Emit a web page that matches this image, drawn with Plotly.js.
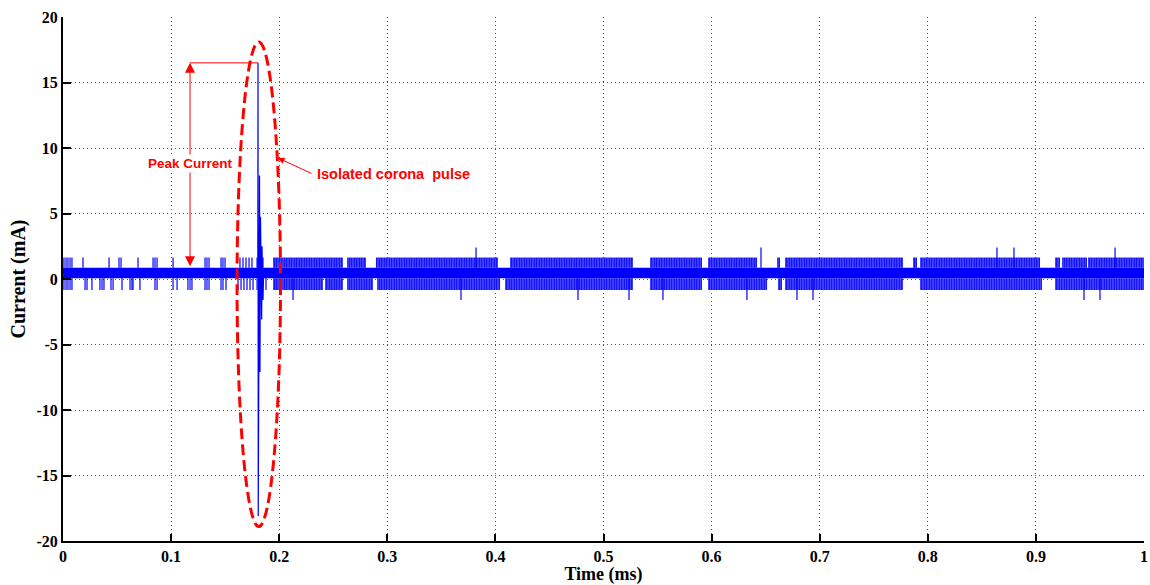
<!DOCTYPE html>
<html><head><meta charset="utf-8">
<script src="https://cdn.plot.ly/plotly-3.0.1.min.js"></script>
<style>html,body{margin:0;padding:0;background:#fff}#chart{width:1150px;height:585px}</style>
</head><body><div id="chart"></div><script>
// ---- data (time in ms, current in mA) ----
const bandEdgeTime = [0, 1];
const bandLow = [0.06, 0.06];
const bandHigh = [0.86, 0.86];
const spikeUpLevel = 1.65;
const spikeDownLevel = -0.84;
const bigUpLevel = 2.4;
const bigDownLevel = -1.6;

// isolated corona pulse samples
const pulseTime  = [0.1795, 0.1802, 0.1804, 0.1806, 0.1818, 0.1822, 0.1827, 0.1838, 0.1841, 0.1850, 0.1856];
const pulseValue = [0.45,   0.45,   16.5,   -18.1,  7.9,    -7.1,   4.75,   -3.1,   2.5,    -1.6,   0.45];

// sparse noise spikes before the pulse
const upSpikeTime = [0.0009,0.0028,0.0046,0.0065,0.0083,0.0185,0.0426,0.0518,0.0537,0.0694,0.0833,0.0851,0.0870,0.1018,
  0.1314,0.1332,0.1351,0.1462,0.1480,0.1499,0.1637,0.1665,0.1693,0.1721,0.1748,0.1795,0.1822,0.1850];
const downSpikeTime = [0.0009,0.0028,0.0046,0.0065,0.0083,0.0204,0.0222,0.0268,0.0342,0.0361,0.0379,0.0444,0.0463,0.0546,
  0.0620,0.0638,0.0648,0.0712,0.0851,0.0870,0.1018,0.1055,0.1156,0.1175,0.1193,0.1314,0.1332,0.1351,0.1462,0.1480,0.1508,
  0.1619,0.1647,0.1674,0.1702,0.1730,0.1758,0.1795,0.1822,0.1878];

// dense noise clusters after the pulse
const upClusterStart = [0.1943,0.2627,0.2895,0.4135,0.5430,0.5967,0.6605,0.6679,0.7863,0.7928,0.9177,0.9241,0.9482];
const upClusterEnd   = [0.2590,0.2803,0.4024,0.5273,0.5911,0.6420,0.6633,0.7771,0.7900,0.9038,0.9223,0.9473,1.0];
const downClusterStart = [0.1943,0.2424,0.2627,0.2905,0.4089,0.5430,0.5967,0.6614,0.6679,0.7928,0.9177];
const downClusterEnd   = [0.2405,0.2590,0.2868,0.4043,0.5273,0.5911,0.6513,0.6651,0.7771,0.9056,1.0];

// occasional larger spikes
const bigUpTime = [0.3821,0.6457,0.8640,0.8797,0.9732];
const bigDownTime = [0.2128,0.3682,0.4764,0.5236,0.5550,0.6327,0.6790,0.6938,0.9445,0.9593];

// ticks
const xTickVals = [0,0.1,0.2,0.3,0.4,0.5,0.6,0.7,0.8,0.9,1];
const xTickLabels = ['0','0.1','0.2','0.3','0.4','0.5','0.6','0.7','0.8','0.9','1'];
const yTickVals = [-20,-15,-10,-5,0,5,10,15,20];
const yTickLabels = ['-20','-15','-10','-5','0','5','10','15','20'];

// annotation anchors
const peakArrowTime = 0.1175;
const peakLabelY = 8.85;
const coronaArrowHead = [0.1989, 9.24];
const coronaArrowTail = [0.2313, 8.0];
const coronaLabel = [0.2331, 8.0];
const ellipseX = [0.1610, 0.2012];
const ellipseY = [-18.9, 18.1];

// ---- build traces ----
const BLUE = '#0000ff', RED = '#ff0000';
function segs(times, y0, y1){
  const x=[], y=[];
  times.forEach(t=>{x.push(t,t,null); y.push(y0,y1,null);});
  return {x,y};
}
function rects(starts, ends, y0, y1){
  const x=[], y=[];
  starts.forEach((s,i)=>{const e=ends[i]; x.push(s,s,e,e,s,null); y.push(y0,y1,y1,y0,y0,null);});
  return {x,y};
}
const bLo = bandLow[0], bHi = bandHigh[0];
const upC = rects(upClusterStart, upClusterEnd, bHi, spikeUpLevel);
const dnC = rects(downClusterStart, downClusterEnd, spikeDownLevel, bLo);
const pattern = {shape:'|', size:2.5, solidity:0.55, fgcolor:BLUE, bgcolor:'#6262ff', fgopacity:1};
const upS = segs(upSpikeTime, bHi, spikeUpLevel);
const dnS = segs(downSpikeTime, spikeDownLevel, bLo);
const bigU = segs(bigUpTime, bHi, bigUpLevel);
const bigD = segs(bigDownTime, bigDownLevel, bLo);

const traces = [
  {x:upC.x, y:upC.y, mode:'lines', fill:'toself', fillcolor:'#6262ff', fillpattern:pattern, line:{width:0,color:BLUE}, hoverinfo:'skip'},
  {x:dnC.x, y:dnC.y, mode:'lines', fill:'toself', fillcolor:'#6262ff', fillpattern:pattern, line:{width:0,color:BLUE}, hoverinfo:'skip'},
  {x:upS.x.concat(dnS.x, bigU.x, bigD.x), y:upS.y.concat(dnS.y, bigU.y, bigD.y), mode:'lines', line:{width:1.2,color:BLUE}, hoverinfo:'skip'},
  {x:[bandEdgeTime[0],bandEdgeTime[0],bandEdgeTime[1],bandEdgeTime[1]], y:[bandLow[0],bandHigh[0],bandHigh[1],bandLow[1]], mode:'lines', fill:'toself', fillcolor:BLUE, line:{width:0,color:BLUE}, hoverinfo:'skip'},
  {x:pulseTime, y:pulseValue, mode:'lines', line:{width:1.2,color:BLUE}, hoverinfo:'skip'}
];

const peakVal = Math.max(...pulseValue);
const peakTime = pulseTime[pulseValue.indexOf(peakVal)];

const serif = 'Liberation Serif, Times New Roman, serif';
const tickFont = {family:serif, size:16, color:'#000', weight:'bold'};
const gridStyle = {showgrid:true, gridcolor:'#555', griddash:'1px,3px', gridwidth:1, zeroline:false};
const layout = {
  width:1150, height:585,
  margin:{l:63, r:6, t:17, b:44},
  paper_bgcolor:'#fff', plot_bgcolor:'#fff',
  showlegend:false,
  xaxis:Object.assign({range:[0,1], tickvals:xTickVals, ticktext:xTickLabels, ticks:'inside', ticklen:7, tickwidth:2, tickcolor:'#000',
    showline:true, linecolor:'#000', linewidth:2, tickfont:tickFont, automargin:false,
    title:{text:'Time (ms)', font:{family:serif, size:18, color:'#000', weight:'bold'}, standoff:6}}, gridStyle),
  yaxis:Object.assign({range:[-20,20], tickvals:yTickVals, ticktext:yTickLabels, ticks:'inside', ticklen:8, tickwidth:2, tickcolor:'#000',
    showline:true, linecolor:'#000', linewidth:2, tickfont:tickFont, automargin:false,
    title:{text:'Current (mA)', font:{family:serif, size:20, color:'#000', weight:'bold'}, standoff:5}}, gridStyle),
  shapes:[
    {type:'line', xref:'x', yref:'y', x0:peakArrowTime, x1:peakTime, y0:peakVal, y1:peakVal, line:{color:RED, width:1}},
    {type:'circle', xref:'x', yref:'y', x0:ellipseX[0], x1:ellipseX[1], y0:ellipseY[0], y1:ellipseY[1], line:{color:RED, width:3, dash:'11px,5px'}, layer:'above'}
  ],
  annotations:[
    {x:peakArrowTime, y:peakVal, ax:peakArrowTime, ay:bandHigh[0], xref:'x', yref:'y', axref:'x', ayref:'y', text:'', showarrow:true,
      arrowside:'end+start', arrowhead:2, startarrowhead:2, arrowsize:2, startarrowsize:2, arrowwidth:1, arrowcolor:RED},
    {x:peakArrowTime, y:peakLabelY, xref:'x', yref:'y', text:'Peak Current', showarrow:false, bgcolor:'#fff',
      font:{family:'Liberation Sans, Arial, sans-serif', size:13.5, color:RED, weight:'bold'}, borderpad:1},
    {x:coronaArrowHead[0], y:coronaArrowHead[1], ax:coronaArrowTail[0], ay:coronaArrowTail[1], xref:'x', yref:'y', axref:'x', ayref:'y',
      text:'', showarrow:true, arrowhead:2, arrowsize:1.3, arrowwidth:1, arrowcolor:RED},
    {x:coronaLabel[0], y:coronaLabel[1], xref:'x', yref:'y', text:'Isolated corona&nbsp; pulse', showarrow:false, xanchor:'left',
      font:{family:'Liberation Sans, Arial, sans-serif', size:14.5, color:RED, weight:'bold'}}
  ]
};
Plotly.newPlot('chart', traces, layout, {staticPlot:true, displayModeBar:false});
</script></body></html>
